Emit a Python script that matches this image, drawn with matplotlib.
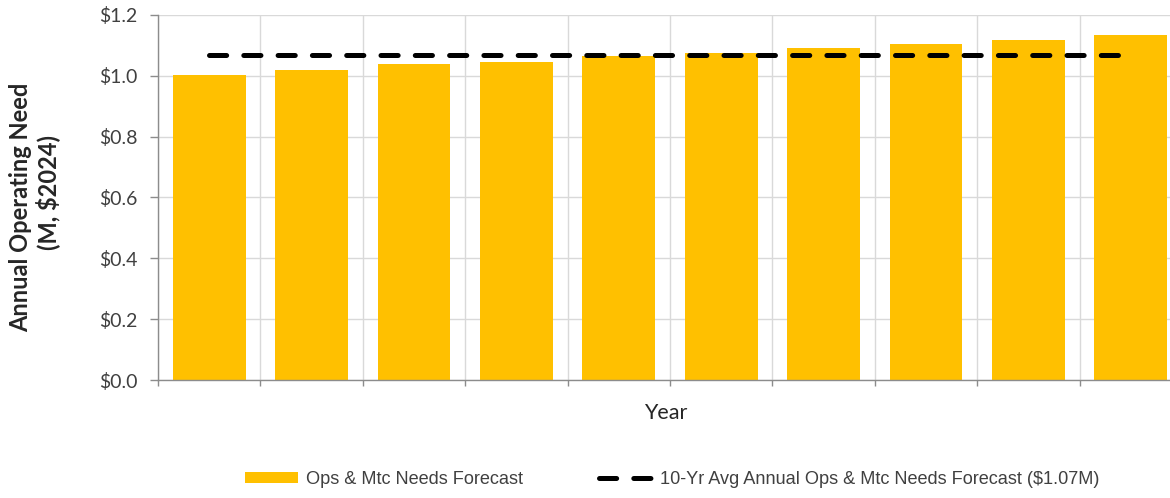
import matplotlib
matplotlib.use("Agg")
import matplotlib.pyplot as plt
from matplotlib import font_manager
from matplotlib.patches import Patch
from matplotlib.lines import Line2D
import numpy as np

# ---- data ----
years = [str(i) for i in range(1, 11)]
ops_mtc_forecast = [1.003, 1.020, 1.038, 1.047, 1.064, 1.074, 1.090, 1.106, 1.117, 1.134]
ten_year_avg = 1.07
y_ticks = [0.0, 0.2, 0.4, 0.6, 0.8, 1.0, 1.2]
y_tick_labels = ["$0.0", "$0.2", "$0.4", "$0.6", "$0.8", "$1.0", "$1.2"]
bar_label = "Ops & Mtc Needs Forecast"
avg_label = "10-Yr Avg Annual Ops & Mtc Needs Forecast ($1.07M)"

# ---- fonts ----
installed = {f.name for f in font_manager.fontManager.ttflist}
if "Liberation Sans Narrow" in installed:
    legend_font, legend_size = "Liberation Sans Narrow", 16.0
else:
    legend_font, legend_size = "Liberation Sans", 13.1
axis_font = "Lato" if "Lato" in installed else "DejaVu Sans"

GOLD = "#FFC000"
GRID = "#D9D9D9"
AXIS = "#8C8C8C"
TXT = "#404040"
DARK = "#262626"
DASH = (3.43, 3.43)

W, H = 1170, 498
fig = plt.figure(figsize=(W / 100, H / 100), dpi=100)
# plot area runs slightly past the right edge of the canvas
ax = fig.add_axes([158 / W, 1 - 380 / H, 1024 / W, (380 - 15) / H])

x = np.arange(len(years))
ax.bar(x, ops_mtc_forecast, width=0.71, color=GOLD, zorder=2)
ax.plot(x, [ten_year_avg] * len(x), color="black", lw=3.6,
        dashes=DASH, dash_capstyle="round", zorder=3)

ax.set_xlim(-0.5, len(years) - 0.5)
ax.set_ylim(0, 1.2)

ax.set_yticks(y_ticks)
ax.set_yticklabels(y_tick_labels, fontfamily=axis_font, fontsize=14, color=TXT)
ax.set_xticks(np.arange(-0.5, len(years), 1.0))
ax.set_xticklabels([])

ax.grid(True, axis="both", color=GRID, lw=1.0, zorder=0)
ax.set_axisbelow(True)
for side in ("top", "right"):
    ax.spines[side].set_visible(False)
for side in ("left", "bottom"):
    ax.spines[side].set_color(AXIS)
    ax.spines[side].set_linewidth(1.0)
    ax.spines[side].set_zorder(4)
ax.tick_params(axis="y", direction="out", length=5.5, width=1.0, color=AXIS, pad=9.5)
ax.tick_params(axis="x", direction="out", length=4.5, width=1.0, color=AXIS)

fig.text(666 / W, 1 - 413 / H, "Year", ha="center", va="center",
         fontfamily=axis_font, fontsize=15.5, color=DARK)

# two-line y label
fig.text(21 / W, 1 - 207 / H, "Annual Operating Need", rotation=90,
         ha="center", va="center", fontfamily=axis_font, fontweight="bold",
         fontsize=17, color=DARK)
fig.text(48 / W, 1 - 192 / H, "(M, $2024)", rotation=90,
         ha="center", va="center", fontfamily=axis_font, fontweight="bold",
         fontsize=17, color=DARK)

fpx = legend_size * 100 / 72
handles = [Patch(facecolor=GOLD, edgecolor="none"),
           Line2D([], [], color="black", lw=3.6, dashes=DASH,
                  dash_capstyle="round")]
leg = fig.legend(handles, [bar_label, avg_label], loc="center left",
                 bbox_to_anchor=(245 / W, 1 - 479 / H), ncol=2,
                 frameon=False, prop={"family": legend_font, "size": legend_size},
                 handlelength=53 / fpx, handleheight=0.55,
                 handletextpad=8 / fpx, columnspacing=76 / fpx, borderpad=0,
                 borderaxespad=0)
for t in leg.get_texts():
    t.set_color(TXT)

fig.savefig("out.png", dpi=100)
